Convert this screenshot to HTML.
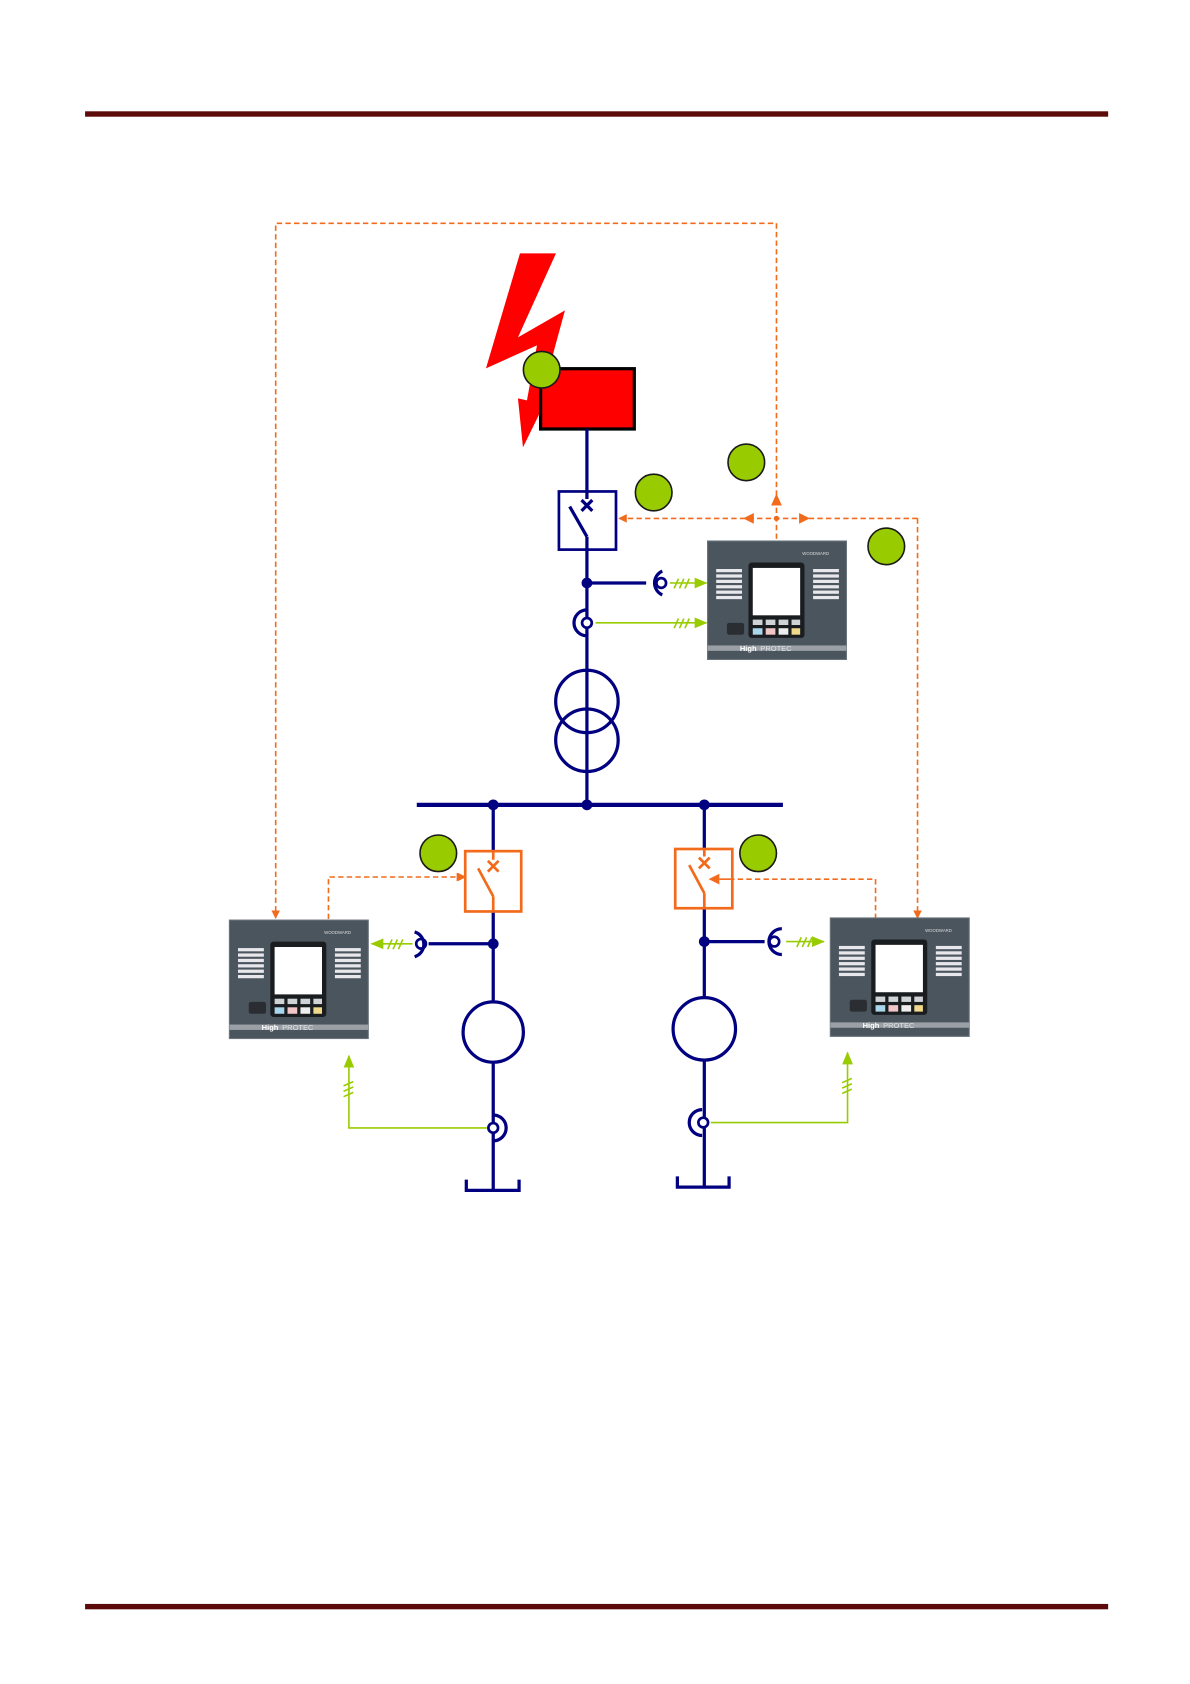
<!DOCTYPE html>
<html><head><meta charset="utf-8"><style>html,body{margin:0;padding:0;background:#fff}svg{display:block}</style></head>
<body>
<svg width="1190" height="1684" viewBox="0 0 1105 1563" xmlns="http://www.w3.org/2000/svg" font-family="Liberation Sans, sans-serif">
<defs>
<marker id="ao" markerWidth="8" markerHeight="8" refX="7" refY="4" orient="auto" markerUnits="userSpaceOnUse"><path d="M0,0 L8,4 L0,8 Z" fill="#f26b1d"/></marker>
<marker id="ag" markerWidth="12" markerHeight="10" refX="11" refY="5" orient="auto" markerUnits="userSpaceOnUse"><path d="M0,0 L12,5 L0,10 Z" fill="#99cc00"/></marker>
<g id="dev">
<rect x="0" y="0" width="129" height="110" fill="#4b555e"/>
<rect x="0" y="0" width="129" height="110" fill="none" stroke="#6b747c"/>
<g fill="#e8e8ec"><rect x="8" y="26" width="24" height="3"/><rect x="8" y="31" width="24" height="3"/><rect x="8" y="36" width="24" height="3"/><rect x="8" y="41" width="24" height="3"/><rect x="8" y="46" width="24" height="3"/><rect x="8" y="51" width="24" height="3"/>
<rect x="98" y="26" width="24" height="3"/><rect x="98" y="31" width="24" height="3"/><rect x="98" y="36" width="24" height="3"/><rect x="98" y="41" width="24" height="3"/><rect x="98" y="46" width="24" height="3"/><rect x="98" y="51" width="24" height="3"/></g>
<rect x="38" y="20" width="52" height="70" rx="3" fill="#1a1d20"/>
<rect x="42" y="25" width="44" height="44" fill="#fff"/>
<g fill="#cfd3d6"><rect x="42" y="73" width="9" height="5"/><rect x="54" y="73" width="9" height="5"/><rect x="66" y="73" width="9" height="5"/><rect x="78" y="73" width="8" height="5"/></g>
<rect x="42" y="81" width="9" height="6" fill="#a9d6ea"/><rect x="54" y="81" width="9" height="6" fill="#f2c6c6"/><rect x="66" y="81" width="9" height="6" fill="#eee"/><rect x="78" y="81" width="8" height="6" fill="#f0d98a"/>
<rect x="18" y="76" width="16" height="11" rx="2" fill="#2a2e32"/>
<rect x="0" y="97" width="129" height="5" fill="#9aa0a6"/>
<text x="30" y="102" font-size="7" font-weight="bold" fill="#fff">High</text><text x="49" y="102" font-size="7" fill="#dfe3e6">PROTEC</text>
<text x="88" y="13" font-size="4" fill="#ddd">WOODWARD</text>
</g>
</defs>
<rect x="79" y="103" width="950" height="5" fill="#5c0a0a"/>
<rect x="79" y="1489" width="950" height="5" fill="#5c0a0a"/>
<g fill="none" stroke="#f26b1d" stroke-width="1.5" stroke-dasharray="5,3">
<path d="M721,468 V207 H256 V852" marker-end="url(#ao)"/>
<path d="M721,500 V470"/>
<path d="M852,481 V852" marker-end="url(#ao)"/>
<path d="M852,481 H575" marker-end="url(#ao)"/>
<path d="M305,853 V814 H432" marker-end="url(#ao)"/>
<path d="M813,853 V816 H670" marker-end="url(#ao)"/>
</g>
<path d="M721,458 L716,469 L726,469Z" fill="#f26b1d"/>
<path d="M690,481 L700,476 L700,486Z M752,481 L742,476 L742,486Z" fill="#f26b1d"/>
<circle cx="721" cy="481" r="2.5" fill="#f26b1d"/>
<g transform="scale(0.9285)"><polygon points="520,253 556,253 518,337 565,310 541,398 548,396 523,447 518,398 527,400 537,345 486,368" fill="#f00"/></g>
<rect x="502" y="342" width="87" height="56" fill="#f00" stroke="#000" stroke-width="3"/>
<g stroke="#000080" stroke-width="3" fill="none">
<path d="M545,398 V747"/>
<rect x="519" y="456" width="53" height="54" fill="#fff" stroke-width="2.5"/>
<path d="M545,456 V463 M545,498 V510 M529,470 L545,498 M540,464 L550,474 M550,464 L540,474"/>
<path d="M545,541 H600"/>
<path d="M615,530 A12,12 0 0 0 615,552"/>
<circle cx="614" cy="541" r="4.5" stroke-width="2.5"/>
<path d="M545,566 A12,12 0 0 0 545,590"/>
<circle cx="545" cy="578" r="4.5" stroke-width="2.5" fill="#fff"/>
<circle cx="545" cy="651" r="29"/>
<circle cx="545" cy="687" r="29"/>
<path d="M387,747 H727" stroke-width="4"/>
<path d="M458,747 V1105 M654,747 V1102"/>
<path d="M458,876 H398 M654,874 H710"/>
<path d="M385,865 A12,12 0 0 1 385,888"/>
<circle cx="391" cy="876" r="4.5" stroke-width="2.5"/>
<path d="M726,862 A12,12 0 0 0 726,886"/>
<circle cx="719" cy="874" r="4.5" stroke-width="2.5"/>
<circle cx="458" cy="958" r="28" fill="#fff"/>
<circle cx="654" cy="955" r="29" fill="#fff"/>
<path d="M458,1035 A12,12 0 0 1 458,1059"/>
<circle cx="458" cy="1047" r="4.5" stroke-width="2.5" fill="#fff"/>
<path d="M652,1030 A12,12 0 0 0 652,1054"/>
<circle cx="653" cy="1042" r="4.5" stroke-width="2.5" fill="#fff"/>
<path d="M433,1095 V1105 H482 V1095 M629,1092 V1102 H677 V1092"/>
</g>
<circle cx="545" cy="541" r="5" fill="#000080"/>
<circle cx="458" cy="747" r="5" fill="#000080"/><circle cx="545" cy="747" r="5" fill="#000080"/><circle cx="654" cy="747" r="5" fill="#000080"/>
<circle cx="458" cy="876" r="5" fill="#000080"/><circle cx="654" cy="874" r="5" fill="#000080"/>
<g stroke="#f26b1d" stroke-width="2.5" fill="none">
<rect x="432" y="790" width="52" height="56" fill="#fff"/>
<path d="M458,790 V798 M458,832 V846 M444,806 L458,832 M453,799 L463,809 M463,799 L453,809"/>
<rect x="627" y="788" width="53" height="55" fill="#fff"/>
<path d="M654,788 V795 M654,829 V843 M640,803 L654,829 M649,796 L659,806 M659,796 L649,806"/>
</g>
<path d="M432,814 L424,810 L424,818Z" fill="#f26b1d"/>
<path d="M658,816 L668,811 L668,821Z" fill="#f26b1d"/>
<path d="M668,816 H680" stroke="#f26b1d" stroke-width="1.5"/>
<g stroke="#99cc00" stroke-width="1.5" fill="none">
<path d="M622,541 H656" marker-end="url(#ag)"/>
<path d="M553,578 H656" marker-end="url(#ag)"/>
<path d="M383,876 H345" marker-end="url(#ag)"/>
<path d="M730,874 H765" marker-end="url(#ag)"/>
<path d="M452,1047 H324 V980" marker-end="url(#ag)"/>
<path d="M660,1042 H787 V977" marker-end="url(#ag)"/>
<path d="M626,546 l4,-9 M631,546 l4,-9 M636,546 l4,-9 M626,583 l4,-9 M631,583 l4,-9 M636,583 l4,-9 M360,881 l4,-9 M365,881 l4,-9 M370,881 l4,-9 M740,879 l4,-9 M745,879 l4,-9 M750,879 l4,-9 M319,1008 l9,-4 M319,1013 l9,-4 M319,1018 l9,-4 M782,1005 l9,-4 M782,1010 l9,-4 M782,1015 l9,-4"/>
</g>
<use href="#dev" x="657" y="502"/>
<use href="#dev" x="213" y="854"/>
<use href="#dev" x="771" y="852"/>
<g fill="#99cc00" stroke="#1a1a1a" stroke-width="1.5">
<circle cx="503" cy="343" r="17"/><circle cx="693" cy="429" r="17"/><circle cx="607" cy="457" r="17"/><circle cx="823" cy="507" r="17"/><circle cx="407" cy="792" r="17"/><circle cx="704" cy="792" r="17"/>
</g>
</svg>
</body></html>
